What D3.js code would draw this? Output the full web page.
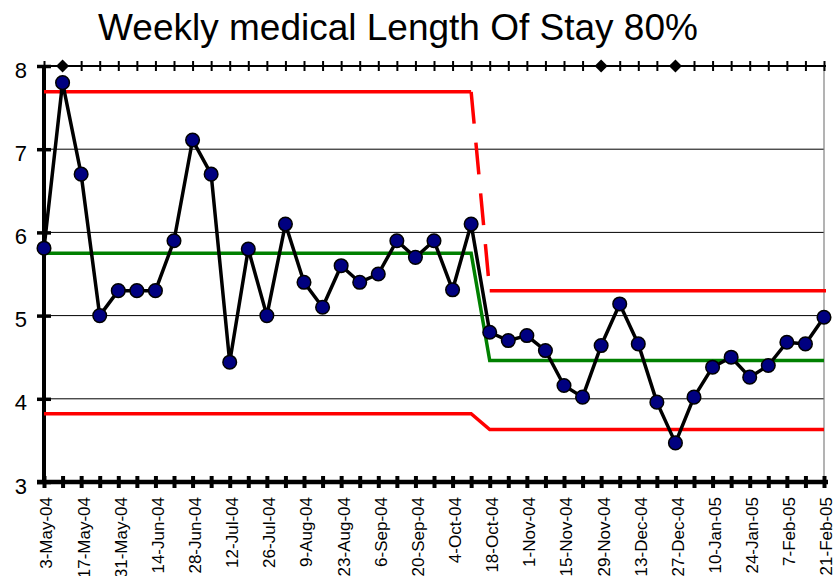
<!DOCTYPE html>
<meta charset="utf-8">
<style>
body { margin: 0; background: #fff; }
text { font-family: Arial, "Liberation Sans", sans-serif; fill: #000; }
</style>
<body>
<script src="https://d3js.org/d3.v7.min.js"></script>
<script>

// week starting dates (one point per week)
var weeks = ["3-May-04","10-May-04","17-May-04","24-May-04","31-May-04","7-Jun-04","14-Jun-04",
  "21-Jun-04","28-Jun-04","5-Jul-04","12-Jul-04","19-Jul-04","26-Jul-04","2-Aug-04","9-Aug-04",
  "16-Aug-04","23-Aug-04","30-Aug-04","6-Sep-04","13-Sep-04","20-Sep-04","27-Sep-04","4-Oct-04",
  "11-Oct-04","18-Oct-04","25-Oct-04","1-Nov-04","8-Nov-04","15-Nov-04","22-Nov-04","29-Nov-04",
  "6-Dec-04","13-Dec-04","20-Dec-04","27-Dec-04","3-Jan-05","10-Jan-05","17-Jan-05","24-Jan-05",
  "31-Jan-05","7-Feb-05","14-Feb-05","21-Feb-05"];

// weekly LOS (80th percentile)
var los = [5.81, 7.80, 6.70, 5.00, 5.30, 5.30, 5.30, 5.90, 7.11, 6.70, 4.44, 5.80, 5.00, 6.10,
  5.40, 5.10, 5.60, 5.40, 5.50, 5.90, 5.70, 5.90, 5.31, 6.10, 4.80, 4.70, 4.76, 4.58, 4.16,
  4.02, 4.64, 5.14, 4.66, 3.96, 3.47, 4.02, 4.38, 4.50, 4.26, 4.40, 4.68, 4.66, 4.98];

// control limits, one value per phase
var phaseFirst = ["3-May-04", "18-Oct-04"];
var phaseLast  = ["11-Oct-04", "21-Feb-05"];
var ucl = [7.69, 5.30];
var centre = [5.75, 4.46];
var lcl = [3.82, 3.63];

// weeks flagged as signals (diamonds on the top axis)
var signals = ["10-May-04", "29-Nov-04", "27-Dec-04"];

var yTicks = [3, 4, 5, 6, 7, 8];

var W = 833, H = 576;

var x = d3.scalePoint().domain(weeks).range([44, 824]);
var y = d3.scaleLinear().domain([3, 8]).range([482, 66]);

var svg = d3.select("body").append("svg")
    .attr("width", W)
    .attr("height", H);

svg.append("rect").attr("width", W).attr("height", H).attr("fill", "#fff");

// title
svg.append("text")
    .attr("x", 398).attr("y", 40)
    .attr("text-anchor", "middle")
    .style("font-size", "37px")
    .text("Weekly medical Length Of Stay 80%");

// gridlines
svg.append("g").selectAll("line")
    .data([4, 5, 6, 7])
    .enter().append("line")
    .attr("x1", x.range()[0]).attr("x2", x.range()[1])
    .attr("y1", function(d) { return y(d); })
    .attr("y2", function(d) { return y(d); })
    .attr("stroke", "#000").attr("stroke-width", 1);

// right border
svg.append("line")
    .attr("x1", 824).attr("x2", 824)
    .attr("y1", y(8)).attr("y2", y(3))
    .attr("stroke", "#808080").attr("stroke-width", 1.2);

// top axis (signal axis)
var topAxis = svg.append("g")
    .attr("transform", "translate(0," + y(8) + ")")
    .call(d3.axisTop(x).tickSizeOuter(0).tickFormat(""));
topAxis.select(".domain").remove();
topAxis.selectAll(".tick line")
    .attr("y1", -5).attr("y2", 5)
    .attr("stroke", "#000").attr("stroke-width", 2);
topAxis.append("line")
    .attr("x1", 37).attr("x2", 826)
    .attr("stroke", "#000").attr("stroke-width", 2);

// bottom axis
var bottomAxis = svg.append("g")
    .attr("transform", "translate(0," + y(3) + ")")
    .call(d3.axisBottom(x).tickSizeOuter(0)
      .tickFormat(function(d, i) { return i % 2 === 0 ? d : ""; }));
bottomAxis.select(".domain").remove();
bottomAxis.selectAll(".tick line")
    .attr("y1", -6).attr("y2", 6)
    .attr("stroke", "#000").attr("stroke-width", 4);
bottomAxis.append("line")
    .attr("x1", 37).attr("x2", 828)
    .attr("stroke", "#000").attr("stroke-width", 4.5);
bottomAxis.selectAll(".tick text")
    .attr("transform", "rotate(-90)")
    .attr("text-anchor", "end")
    .attr("x", -15)
    .attr("y", 2)
    .attr("dy", "0.35em")
    .style("font-size", "17px")
    .style("font-family", "Arial, 'Liberation Sans', sans-serif");

// left axis
var leftAxis = svg.append("g")
    .attr("transform", "translate(44,0)")
    .call(d3.axisLeft(y).tickValues(yTicks).tickSizeOuter(0).tickFormat(d3.format("d")));
leftAxis.select(".domain").remove();
leftAxis.selectAll(".tick line")
    .attr("x1", -7).attr("x2", 7)
    .attr("stroke", "#000").attr("stroke-width", 3.5);
leftAxis.append("line")
    .attr("y1", y(8)).attr("y2", y(3) + 2)
    .attr("stroke", "#000").attr("stroke-width", 4);
leftAxis.selectAll(".tick text")
    .attr("x", -17)
    .attr("dy", "0.5em")
    .style("font-size", "22px")
    .style("font-family", "Arial, 'Liberation Sans', sans-serif");

// control limit lines
function limitPoints(vals) {
  var pts = [];
  vals.forEach(function(v, i) {
    pts.push([x(phaseFirst[i]), y(v)]);
    pts.push([x(phaseLast[i]), y(v)]);
  });
  return pts;
}
var line = d3.line();

svg.append("path")
    .attr("d", line(limitPoints(centre)))
    .attr("fill", "none").attr("stroke", "#008000").attr("stroke-width", 3.5);

svg.append("path")
    .attr("d", line(limitPoints(lcl)))
    .attr("fill", "none").attr("stroke", "#ff0000").attr("stroke-width", 3.5);

// upper limit: solid within phases, dashed at the step
ucl.forEach(function(v, i) {
  svg.append("path")
      .attr("d", line([[x(phaseFirst[i]), y(v)], [x(phaseLast[i]) + (i === ucl.length - 1 ? 2 : 0), y(v)]]))
      .attr("fill", "none").attr("stroke", "#ff0000").attr("stroke-width", 3.5);
});
svg.append("path")
    .attr("d", line([[x(phaseLast[0]), y(ucl[0])], [x(phaseFirst[1]), y(ucl[1])]]))
    .attr("fill", "none").attr("stroke", "#ff0000").attr("stroke-width", 3.5)
    .attr("stroke-dasharray", "32,19");

// data line
svg.append("path")
    .datum(los)
    .attr("d", d3.line()
      .x(function(d, i) { return x(weeks[i]); })
      .y(function(d) { return y(d); }))
    .attr("fill", "none").attr("stroke", "#000").attr("stroke-width", 3.5)
    .attr("stroke-linejoin", "round");

svg.append("g").selectAll("circle")
    .data(los)
    .enter().append("circle")
    .attr("cx", function(d, i) { return x(weeks[i]); })
    .attr("cy", function(d) { return y(d); })
    .attr("r", 6.8)
    .attr("fill", "#000080")
    .attr("stroke", "#000").attr("stroke-width", 1.5);

// signal diamonds
svg.append("g").selectAll("path")
    .data(signals)
    .enter().append("path")
    .attr("d", d3.symbol(d3.symbolSquare, 85))
    .attr("transform", function(d) { return "translate(" + x(d) + "," + y(8) + ") rotate(45)"; })
    .attr("fill", "#000");

</script>
</body>
